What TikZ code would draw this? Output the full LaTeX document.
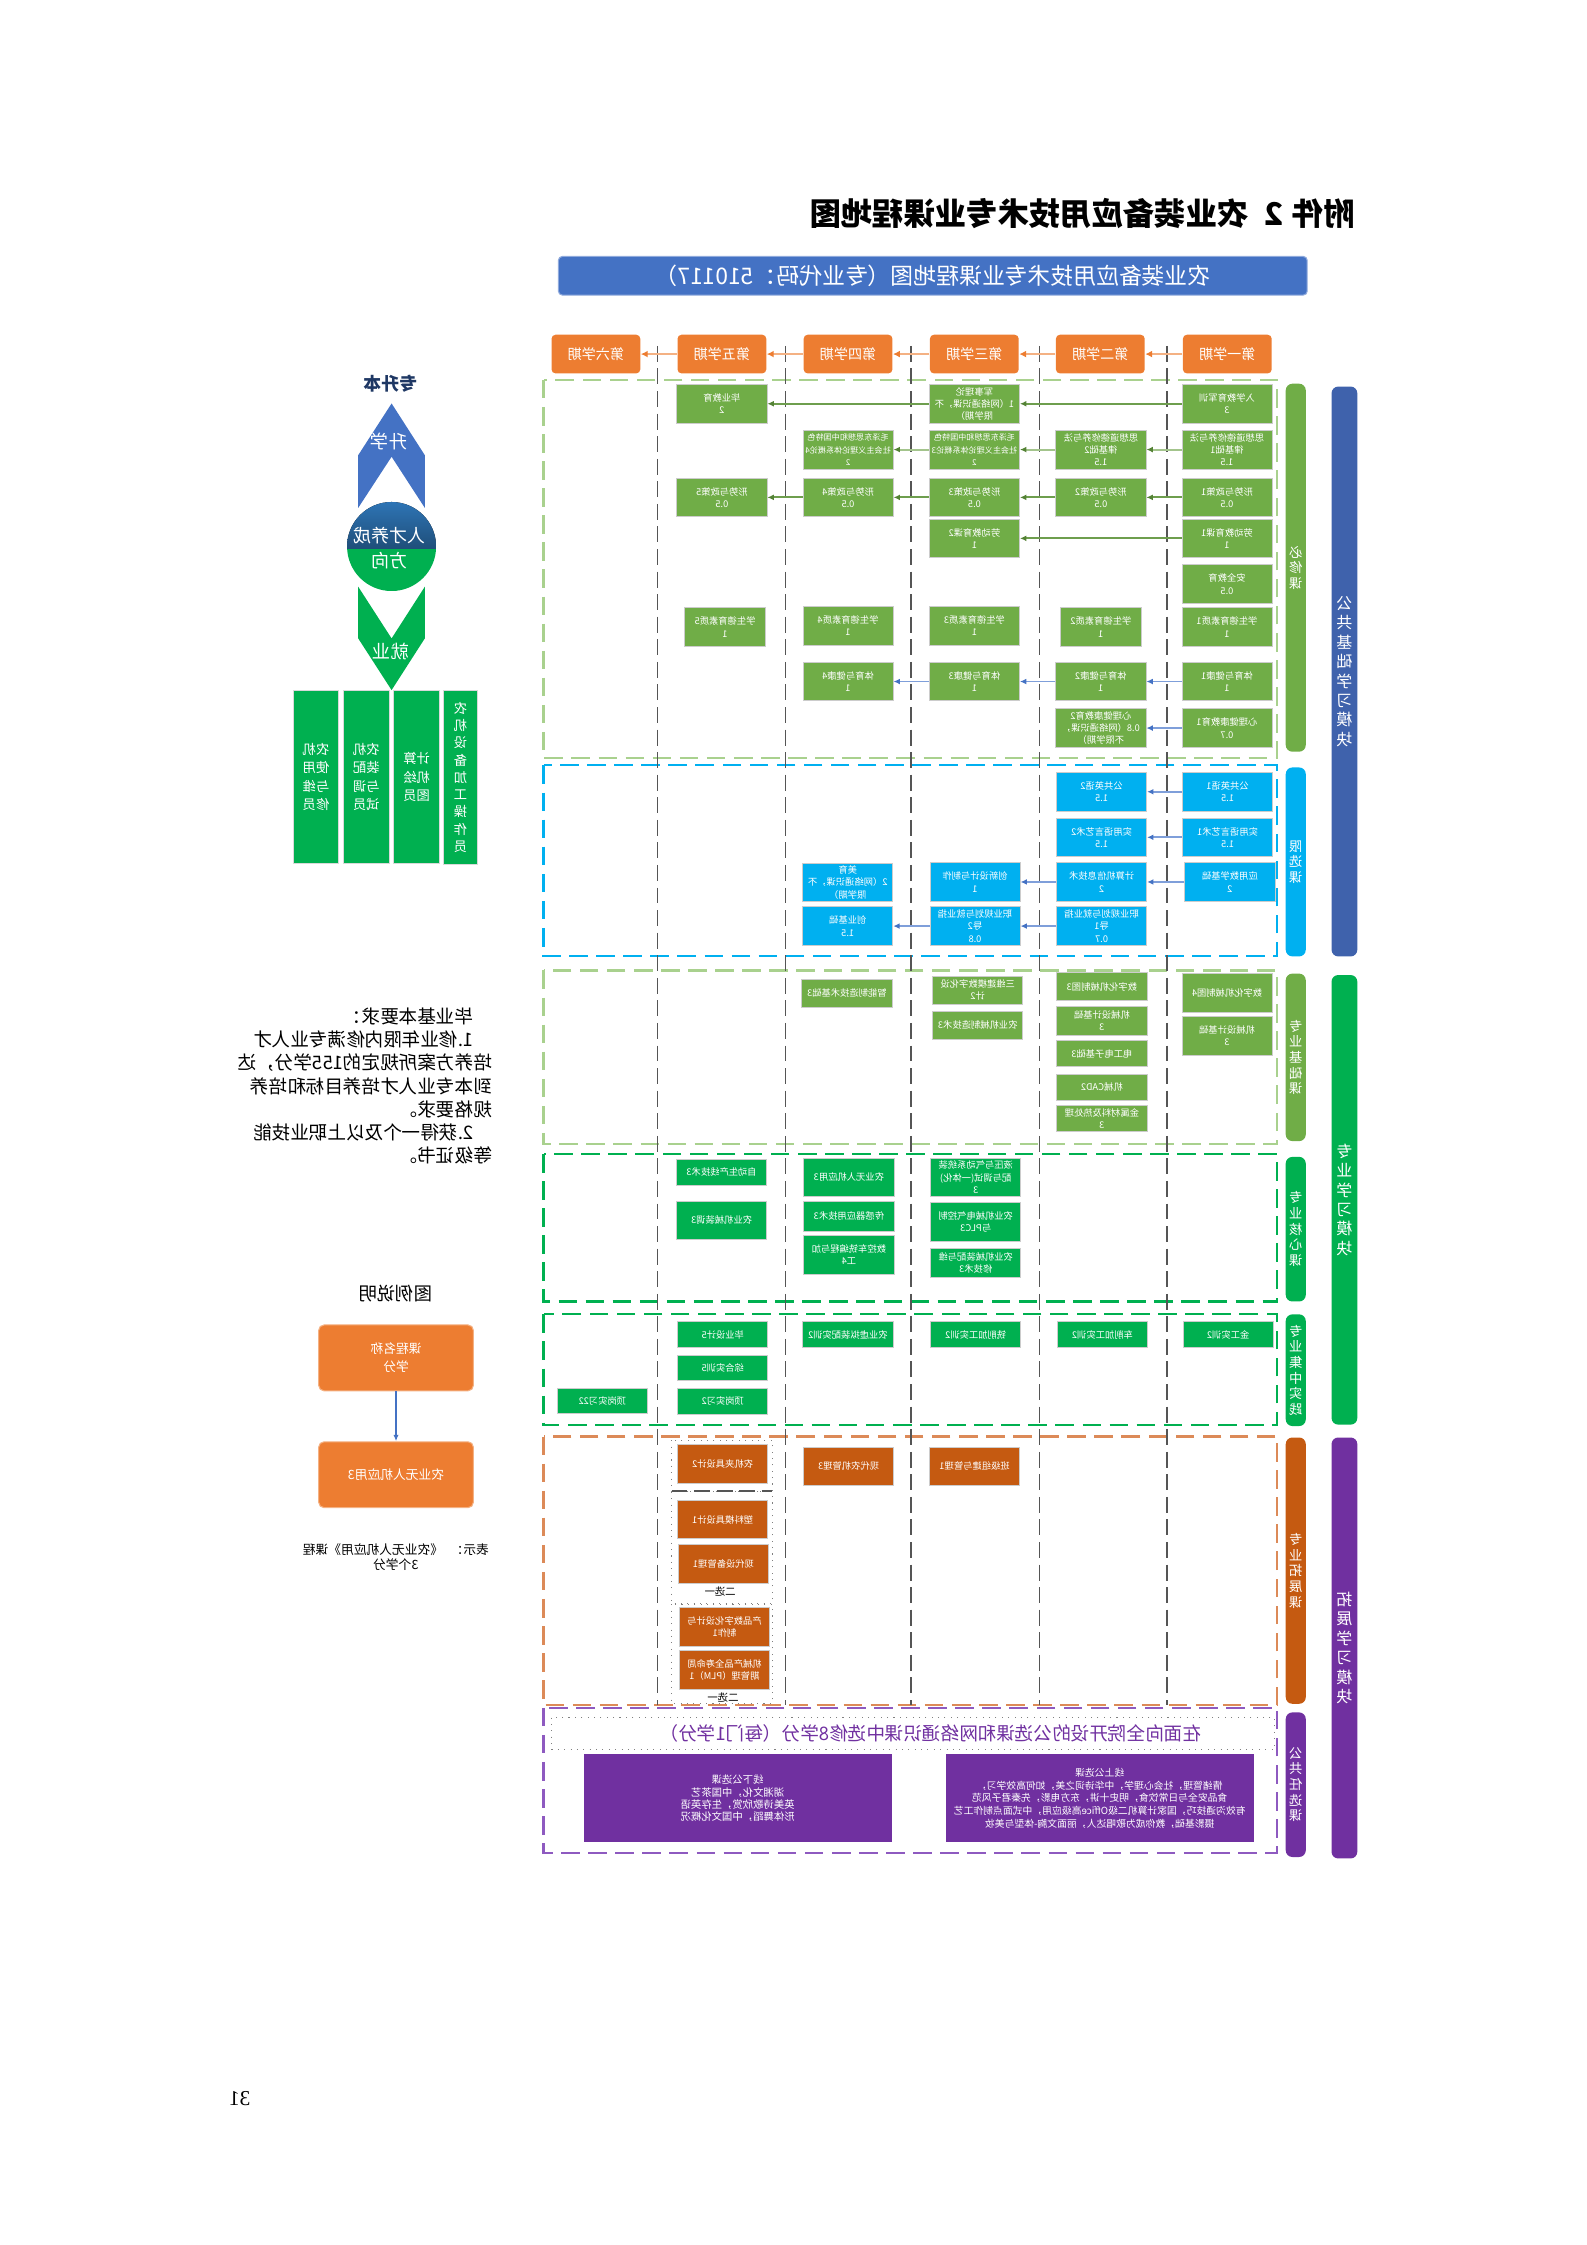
\documentclass[tikz,border=0pt]{standalone}
\usepackage{fontspec}
\setmainfont{Noto Sans CJK SC}
\newfontfamily\pagenumfont{Liberation Serif}
\usetikzlibrary{arrows.meta}

\newdimen\pxu
\pxu=0.18953mm

\definecolor{hdorange}{HTML}{ED7D31}
\definecolor{hdline}{HTML}{F4B183}
\definecolor{bnblue}{HTML}{4472C4}
\definecolor{modblue}{HTML}{3F62AC}
\definecolor{lgreen}{HTML}{70AD47}
\definecolor{lgreenb}{HTML}{A9D18E}
\definecolor{dgreen}{HTML}{00B050}
\definecolor{sky}{HTML}{00B0F0}
\definecolor{rust}{HTML}{C55A11}
\definecolor{rustb}{HTML}{DC8A58}
\definecolor{ppl}{HTML}{7030A0}
\definecolor{pplb}{HTML}{8E5AC0}
\definecolor{navy}{HTML}{1F3864}
\definecolor{gline}{HTML}{6E9E4E}
\definecolor{glight}{HTML}{A3C48C}
\definecolor{gtip}{HTML}{548235}
\definecolor{bline}{HTML}{7F9FDA}
\definecolor{sepgray}{HTML}{555555}
\definecolor{circtop}{HTML}{2E75B6}
\definecolor{circbot}{HTML}{1F4E79}

\tikzset{
  hdbox/.style={fill=hdorange, rounded corners=1.5pt, text=white, inner sep=0pt,
    minimum width=62*\pxu, minimum height=27*\pxu, font=\fontsize{5.3}{6}\selectfont},
  crs/.style={fill=lgreen, draw=white!80!black, line width=0.3pt, text=white,
    align=center, inner sep=0pt, minimum width=63*\pxu, minimum height=27*\pxu,
    font=\fontsize{3.5}{4.6}\selectfont},
  crsblue/.style={crs, fill=sky},
  crsgreen/.style={crs, fill=dgreen},
  crsrust/.style={crs, fill=rust},
  smallcrs/.style={font=\fontsize{3.05}{4.6}\selectfont},
  pick/.style={font=\fontsize{3.9}{4.5}\selectfont, inner sep=0pt},
  sidebar/.style={rounded corners=2.5pt, text=white, align=center, inner sep=0pt,
    minimum width=14*\pxu, font=\fontsize{5}{5.9}\selectfont},
  modbar/.style={sidebar, minimum width=18*\pxu, font=\fontsize{6}{7.3}\selectfont},
  jobbox/.style={fill=dgreen, draw=white!85!black, line width=0.3pt, text=white,
    align=center, inner sep=0pt, minimum height=121*\pxu, font=\fontsize{5}{7}\selectfont},
  lgbox/.style={fill=hdorange, draw=hdline, line width=0.4pt, rounded corners=2pt,
    text=white, align=center, inner sep=0pt, minimum width=108*\pxu,
    minimum height=46*\pxu, font=\fontsize{4.8}{6.9}\selectfont},
  pubbox/.style={fill=ppl, text=white, align=center, inner sep=0pt,
    minimum width=215*\pxu, minimum height=61.6*\pxu},
  sect/.style={line width=0.8pt, dash pattern=on 7pt off 3.2pt},
  colsep/.style={draw=sepgray, line width=0.6pt, dash pattern=on 6pt off 2.5pt},
  grpbox/.style={draw=gray, line width=0.4pt, dotted},
  garr/.style={draw=gline, line width=0.7pt, -{Latex[length=2.4pt,width=2.2pt,color=gtip]}},
  glarr/.style={garr, draw=glight},
  barr/.style={draw=bline, line width=0.7pt, -{Latex[length=2.4pt,width=2.2pt,color=bnblue]}},
  harr/.style={draw=hdline, line width=1pt, -{Latex[length=2.6pt,width=2.6pt,color=hdorange]}},
  legarr/.style={draw=bnblue, line width=0.5pt, -{Latex[length=2.4pt,width=2pt]}},
}

\begin{document}
\begin{tikzpicture}[x=0.18953mm, y=-0.18953mm, every node/.append style={xscale=-1}]
  \useasboundingbox (0,0) rectangle (1108,1568);

  % title and banner
  \node[font=\bfseries\fontsize{11.8}{14}\selectfont] (title) at (756,149)
    {附件\hspace{0.3em}2\hspace{0.5em}农业装备应用技术专业课程地图};
  \node[fill=bnblue, draw=bnblue!60, rounded corners=1.5pt, text=white, inner sep=0pt,
    minimum width=523*\pxu, minimum height=27*\pxu, font=\fontsize{8.6}{10}\selectfont]
    (banner) at (651.5,192.6) {农业装备应用技术专业课程地图（专业代码：510117）};

  % module frames
  \draw[sect, draw=lgreenb] (379.6,265.3) rectangle (892.1,529.5);
  \draw[sect, draw=sky] (379.6,534.6) rectangle (892.1,668);
  \draw[sect, draw=lgreenb] (379.6,677.8) rectangle (892.1,799.2);
  \draw[sect, draw=dgreen] (379.6,806) rectangle (892.1,909);
  \draw[sect, draw=dgreen] (379.6,918) rectangle (892.1,995.5);
  \draw[sect, draw=rustb] (379.6,1003.3) rectangle (892.1,1190.9);
  \draw[sect, draw=pplb] (379.6,1192.8) rectangle (892.1,1294);

  % semester columns
  \draw[colsep] (459.2,241.6) -- (459.2,1191);
  \draw[colsep] (548.6,241.6) -- (548.6,1191);
  \draw[colsep] (636.3,241.6) -- (636.3,1191);
  \draw[colsep] (725.9,241.6) -- (725.9,1191);
  \draw[colsep] (815.1,241.6) -- (815.1,1191);

  % semesters
  \node[hdbox] (hd1) at (857.2,247.3) {第一学期};
  \node[hdbox] (hd2) at (768.5,247.3) {第二学期};
  \node[hdbox] (hd3) at (680.5,247.3) {第三学期};
  \node[hdbox] (hd4) at (592.3,247.3) {第四学期};
  \node[hdbox] (hd5) at (504.2,247.3) {第五学期};
  \node[hdbox] (hd6) at (416.2,247.3) {第六学期};
  \draw[harr] (hd1) -- (hd2);
  \draw[harr] (hd2) -- (hd3);
  \draw[harr] (hd3) -- (hd4);
  \draw[harr] (hd4) -- (hd5);
  \draw[harr] (hd5) -- (hd6);

  % required courses
  \node[crs] (s1a) at (857,282) {入学教育军训\\3};
  \node[crs] (s1b) at (857,314) {思想道德修养与法\\律基础1\\1.5};
  \node[crs] (s1c) at (857,347.4) {形势与政策1\\0.5};
  \node[crs] (s1d) at (857,376) {劳动教育课1\\1};
  \node[crs] (s1e) at (857,408) {安全教育\\0.5};
  \node[crs] (s1f) at (857,438) {学生德育素质1\\1};
  \node[crs] (s1g) at (857,476) {体育与健康1\\1};
  \node[crs] (s1h) at (857,508.5) {心理健康教育1\\0.7};
  \node[crs] (s2b) at (768.9,314) {思想道德修养与法\\律基础2\\1.5};
  \node[crs] (s2c) at (768.9,347.4) {形势与政策2\\0.5};
  \node[crs, minimum width=56.5*\pxu] (s2f) at (768.9,438) {学生德育素质2\\1};
  \node[crs] (s2g) at (768.9,476) {体育与健康2\\1};
  \node[crs] (s2h) at (768.9,508.5) {心理健康教育2\\0.8（网络通识课，\\不限学期）};
  \node[crs] (s3a) at (680.6,282) {军事理论\\1（网络通识课，不\\限学期）};
  \node[crs, smallcrs] (s3b) at (680.6,314) {毛泽东思想和中国特色\\社会主义理论体系概论3\\2};
  \node[crs] (s3c) at (680.6,347.4) {形势与政策3\\0.5};
  \node[crs] (s3d) at (680.6,376) {劳动教育课2\\1};
  \node[crs] (s3f) at (680.6,437) {学生德育素质3\\1};
  \node[crs] (s3g) at (680.6,476) {体育与健康3\\1};
  \node[crs, smallcrs] (s4b) at (592.3,314) {毛泽东思想和中国特色\\社会主义理论体系概论4\\2};
  \node[crs] (s4c) at (592.3,347.4) {形势与政策4\\0.5};
  \node[crs] (s4f) at (592.3,437) {学生德育素质4\\1};
  \node[crs] (s4g) at (592.3,476) {体育与健康4\\1};
  \node[crs] (s5a) at (504.2,282) {毕业教育\\2};
  \node[crs] (s5c) at (504.2,347.4) {形势与政策5\\0.5};
  \node[crs, minimum width=57*\pxu] (s5f) at (506.4,438) {学生德育素质5\\1};
  \draw[garr] (s1a) -- (s3a);
  \draw[garr] (s3a) -- (s5a);
  \draw[glarr] (s1b) -- (s2b);
  \draw[glarr] (s2b) -- (s3b);
  \draw[glarr] (s3b) -- (s4b);
  \draw[garr] (s1c) -- (s2c);
  \draw[garr] (s2c) -- (s3c);
  \draw[garr] (s3c) -- (s4c);
  \draw[garr] (s4c) -- (s5c);
  \draw[garr] (s1d) -- (s3d);
  \draw[barr] (s1g) -- (s2g);
  \draw[barr] (s2g) -- (s3g);
  \draw[barr] (s3g) -- (s4g);
  \draw[barr] (s1h) -- (s2h);

  % limited electives
  \node[crsblue] (x1a) at (857.4,553) {公共英语1\\1.5};
  \node[crsblue] (x1b) at (857.4,584.8) {实用语言艺术1\\1.5};
  \node[crsblue] (x1c) at (859,616) {应用数学基础\\2};
  \node[crsblue] (x2a) at (769.4,553) {公共英语2\\1.5};
  \node[crsblue] (x2b) at (769.4,584.8) {实用语言艺术2\\1.5};
  \node[crsblue] (x2c) at (769.4,616) {计算机信息技术\\2};
  \node[crsblue] (x2d) at (769.4,646.8) {职业规划与就业指\\导1\\0.7};
  \node[crsblue] (x3c) at (681,616) {创新设计与制作\\1};
  \node[crsblue] (x3d) at (681,646.8) {职业规划与就业指\\导2\\0.8};
  \node[crsblue] (x4c) at (592.1,616.3) {美育\\2（网络通识课，不\\限学期）};
  \node[crsblue] (x4d) at (592.1,646.8) {创业基础\\1.5};
  \draw[barr] (x1a) -- (x2a);
  \draw[barr] (x1b) -- (x2b);
  \draw[barr] (x1c) -- (x2c);
  \draw[barr] (x2c) -- (x3c);
  \draw[barr] (x2d) -- (x3d);
  \draw[barr] (x3d) -- (x4d);

  % professional basics
  \node[crs] (j1a) at (857,693.5) {数字化机械制图4};
  \node[crs] (j1b) at (857,723.4) {机械设计基础\\3};
  \node[crs, minimum height=19*\pxu] (j2a) at (769.6,689) {数字化机械制图3};
  \node[crs, minimum height=20.3*\pxu] (j2b) at (769.6,712.8) {机械设计基础\\3};
  \node[crs, minimum height=18.4*\pxu] (j2c) at (769.6,735.8) {电工电子基础3};
  \node[crs, minimum height=18.6*\pxu] (j2d) at (769.6,759.4) {机械CAD2};
  \node[crs, minimum height=18.6*\pxu] (j2e) at (769.6,781.1) {金属材料及热处理\\3};
  \node[crs, minimum height=19.5*\pxu] (j3a) at (682.9,691.5) {三维建模数字化设\\计2};
  \node[crs, minimum height=19.6*\pxu] (j3b) at (682.9,716) {农业机械制造技术3};
  \node[crs, minimum height=19.6*\pxu] (j4a) at (591.5,693.8) {智能制造技术基础3};

  % professional core
  \node[crsgreen] (k3a) at (681.5,822.3) {液压与气动系统装\\配与调试(一体化)\\3};
  \node[crsgreen] (k3b) at (681.5,853.6) {农业机械电气控制\\与PLC3};
  \node[crsgreen, minimum height=20.8*\pxu] (k3c) at (681.5,882) {农业机械装配与维\\修技术3};
  \node[crsgreen] (k4a) at (592.9,822.3) {农业无人机应用3};
  \node[crsgreen, minimum height=20.8*\pxu] (k4b) at (592.9,849.5) {传感器应用技术3};
  \node[crsgreen] (k4c) at (592.9,876.3) {数控车铣编程与加\\工4};
  \node[crsgreen, minimum height=18.5*\pxu] (k5a) at (504,818.7) {自动生产线技术3};
  \node[crsgreen] (k5b) at (504,852.4) {农业机械装调3};

  % practice
  \node[crsgreen, minimum height=18*\pxu] (p1) at (857.8,932.1) {金工实训2};
  \node[crsgreen, minimum height=18*\pxu] (p2) at (770,932.1) {车削加工实训2};
  \node[crsgreen, minimum height=18*\pxu] (p3) at (681.5,932.1) {铣削加工实训2};
  \node[crsgreen, minimum height=18*\pxu] (p4) at (592.2,932.1) {农业虚拟装配实训2};
  \node[crsgreen, minimum height=18*\pxu] (p5a) at (504.8,932.1) {毕业设计5};
  \node[crsgreen, minimum height=18*\pxu] (p5b) at (504.8,955.4) {综合实训5};
  \node[crsgreen, minimum height=18*\pxu] (p5c) at (504.8,978.6) {顶岗实习2};
  \node[crsgreen, minimum height=18*\pxu] (p6) at (420.7,978.4) {顶岗实习22};

  % extension courses
  \draw[grpbox] (469,1006) rectangle (539.3,1041.9);
  \draw[grpbox] (469,1041.9) rectangle (539.3,1119.9);
  \draw[grpbox] (469,1120.4) rectangle (539.3,1189.7);
  \draw[colsep] (469,1041.4) -- (539.3,1041.4);
  \node[crsrust] (e3) at (680.7,1024.2) {班级组建与管理1};
  \node[crsrust] (e4) at (592.7,1024.2) {现代农机管理3};
  \node[crsrust] (e5a) at (504.7,1022.4) {农机夹具设计2};
  \node[crsrust] (e5b) at (504.7,1061.3) {塑料模具设计1};
  \node[crsrust] (e5c) at (505.3,1092.3) {现代设备管理1};
  \node[crsrust] (e5d) at (506,1136.5) {产品数字化设计与\\制作1};
  \node[crsrust] (e5e) at (506,1166.5) {机械产品全寿命周\\期管理（PLM）1};
  \node[pick] (pick1) at (503,1111.3) {二选一};
  \node[pick] (pick2) at (505,1185.3) {二选一};

  % public electives
  \draw[grpbox] (385,1199.6) rectangle (890,1221.7);
  \node[text=ppl, font=\fontsize{7}{8}\selectfont] (pubnote) at (650,1210.7)
    {在面向全院开设的公选课和网络通识课中选修8学分（每门1学分）};
  \node[pubbox, font=\fontsize{3.9}{4.6}\selectfont] (offline) at (515.2,1256)
    {线下公选课\\湖湘文化，中国茶艺\\英美诗歌欣赏，生存英语\\形体舞蹈，中国文化概况};
  \node[pubbox, font=\fontsize{3.7}{4.85}\selectfont] (online) at (768.1,1256)
    {线上公选课\\情绪管理，社会心理学，中华诗词之美，如何高效学习，\\食品安全与日常饮食，明史十讲，东方电影，先秦君子风范\\有效沟通技巧，国家计算机二级Office高级应用，中式面点制作工艺\\摄影基础，教你成为歌唱达人，丽面文胸-体型与美妆};

  % side labels
  \node[sidebar, fill=lgreen, minimum height=257*\pxu] (barA) at (905,396.5) {必\\修\\课};
  \node[sidebar, fill=sky, minimum height=132*\pxu] (barB) at (905,602) {限\\选\\课};
  \node[sidebar, fill=lgreen, minimum height=117*\pxu] (barC) at (905,738.5) {专\\业\\基\\础\\课};
  \node[sidebar, fill=dgreen, minimum height=101*\pxu] (barD) at (905,858.5) {专\\业\\核\\心\\课};
  \node[sidebar, fill=dgreen, minimum height=78*\pxu] (barE) at (905,957) {专\\业\\集\\中\\实\\践};
  \node[sidebar, fill=rust, minimum height=186*\pxu] (barF) at (905,1097) {专\\业\\拓\\展\\课};
  \node[sidebar, fill=ppl, minimum height=101*\pxu] (barG) at (905,1246.5) {公\\共\\任\\选\\课};
  \node[modbar, fill=modblue, minimum height=398*\pxu] (modA) at (939,469) {公\\共\\基\\础\\学\\习\\模\\块};
  \node[modbar, fill=dgreen, minimum height=314*\pxu] (modB) at (939,838) {专\\业\\学\\习\\模\\块};
  \node[modbar, fill=ppl, minimum height=294*\pxu] (modC) at (939,1151) {拓\\展\\学\\习\\模\\块};

  % training direction
  \node[text=navy, font=\bfseries\fontsize{6.7}{8}\selectfont] (upgoal) at (272.8,267.9) {专升本};
  \fill[bnblue] (273.5,281.8) -- (296.7,317.9) -- (296.7,354.7) -- (273.5,319)
    -- (250.2,354.7) -- (250.2,317.9) -- cycle;
  \node[text=white, font=\fontsize{6.9}{8}\selectfont] (uplabel) at (271.6,308.5) {升学};
  \begin{scope}
    \clip (273.5,381.7) circle[radius=31.1];
    \fill[top color=circtop, bottom color=circbot] (242,350) rectangle (305,383.5);
    \fill[dgreen] (242,383.5) rectangle (305,413);
  \end{scope}
  \node[text=white, font=\fontsize{6.8}{8}\selectfont] (dirA) at (272,373.8) {人才养成};
  \node[text=white, font=\fontsize{6.8}{8}\selectfont] (dirB) at (272.2,391.8) {方向};
  \fill[dgreen] (250.2,409.8) -- (273.5,445.9) -- (296.7,409.8) -- (296.7,445.9)
    -- (273.5,482) -- (250.2,445.9) -- cycle;
  \node[text=white, font=\fontsize{6.9}{8}\selectfont] (joblabel) at (273,455.4) {就业};
  \node[jobbox, minimum width=31.9*\pxu] (job1) at (220.7,542.7) {农机\\使用\\与维\\修员};
  \node[jobbox, minimum width=32.4*\pxu] (job2) at (255.9,542.7) {农机\\装配\\与调\\试员};
  \node[jobbox, minimum width=32.1*\pxu] (job3) at (291,542.7) {计算\\机绘\\图员};
  \node[jobbox, minimum width=23.2*\pxu, font=\fontsize{5}{6.5}\selectfont] (job4) at (321.6,543)
    {农\\机\\设\\备\\加\\工\\操\\作\\员};

  % graduation requirements
  \node[font=\fontsize{7}{8.7}\selectfont, align=left, anchor=west, inner sep=0pt] (req) at (344,758.5)
    {\hspace*{1em}毕业基本要求：\\\hspace*{1em}1.修业年限内修满专业人才\\培养方案所规定的155学分，达\\到本专业人才培养目标和培养\\规格要求。\\\hspace*{1em}2.获得一个及以上职业技能\\等级证书。};

  % legend
  \node[font=\fontsize{6.9}{8}\selectfont] (lgtitle) at (276.2,903.7) {图例说明};
  \node[lgbox] (lg1) at (276.6,948.4) {课程名称\\学分};
  \node[lgbox] (lg2) at (276.6,1030) {农业无人机应用3};
  \draw[legarr] (lg1) -- (lg2);
  \node[font=\fontsize{4.8}{5.6}\selectfont, align=center] (lgnote) at (276.5,1087.5)
    {表示：\hspace{0.6em}《农业无人机应用》课程\\3个学分};

  \node[font=\pagenumfont\fontsize{8}{9}\selectfont] (pgnum) at (167.5,1465.5) {31};
\end{tikzpicture}
\end{document}
